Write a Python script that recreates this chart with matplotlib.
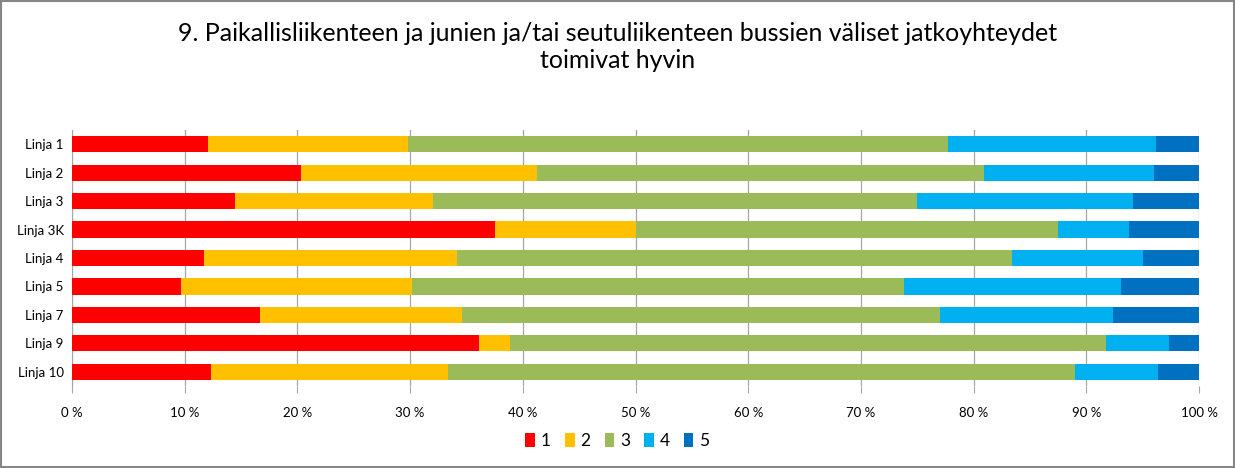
import numpy as np
import matplotlib.pyplot as plt
from matplotlib.patches import Rectangle

plt.rcParams['font.family'] = ['Lato', 'DejaVu Sans']

# Linjat ja vastausten osuudet (%)
lines = ['Linja 1', 'Linja 2', 'Linja 3', 'Linja 3K', 'Linja 4',
         'Linja 5', 'Linja 7', 'Linja 9', 'Linja 10']
answers = ['1', '2', '3', '4', '5']
ans_1 = [12.1, 20.3, 14.5, 37.5, 11.7, 9.65, 16.7, 36.1, 12.35]
ans_2 = [17.7, 21.0, 17.5, 12.5, 22.5, 20.55, 17.9, 2.8, 21.05]
ans_3 = [47.9, 39.6, 43.0, 37.5, 49.2, 43.65, 42.4, 52.8, 55.6]
ans_4 = [18.5, 15.1, 19.1, 6.25, 11.6, 19.2, 15.4, 5.6, 7.4]
ans_5 = [3.8, 4.0, 5.9, 6.25, 5.0, 6.95, 7.6, 2.7, 3.6]
colors = ['#FF0000', '#FFC000', '#9BBB59', '#00B0F0', '#0070C0']

title = ('9. Paikallisliikenteen ja junien ja/tai seutuliikenteen bussien väliset jatkoyhteydet\n'
         'toimivat hyvin')

fig = plt.figure(figsize=(12.35, 4.68), dpi=100)
ax = fig.add_axes([0.0583, 0.1752, 0.9126, 0.547])

series = [ans_1, ans_2, ans_3, ans_4, ans_5]
y = np.arange(len(lines))
left = np.zeros(len(lines))
for vals, lab, col in zip(series, answers, colors):
    vals = np.array(vals)
    ax.barh(y, vals, left=left, height=0.57, color=col, label=lab, zorder=3)
    left += vals

ax.set_ylim(len(lines) - 0.5, -0.5)
ax.set_xlim(0, 100)
ax.set_yticks(y)
ax.set_yticklabels(lines, fontsize=9.5)
ax.set_xticks(np.arange(0, 101, 10))
ax.set_xticklabels([f'{v} %' for v in range(0, 101, 10)], fontsize=9.5)
ax.grid(axis='x', color='#A6A6A6', linewidth=0.9, zorder=0)
for s in ['top', 'right', 'bottom']:
    ax.spines[s].set_visible(False)
ax.spines['left'].set_color('#A6A6A6')
ax.tick_params(axis='y', length=0, pad=6)
ax.tick_params(axis='x', length=5, color='#A6A6A6', pad=10)

fig.text(0.5, 0.899, title, fontsize=18, ha='center', va='center',
         linespacing=1.2)

fig.legend(loc='center', bbox_to_anchor=(0.5, 0.058), ncol=5, frameon=False,
           fontsize=12.5, handlelength=0.55, handleheight=0.9, handletextpad=0.35,
           columnspacing=0.8)

fig.patches.append(Rectangle((0.001, 0.002), 0.998, 0.996, transform=fig.transFigure,
                             fill=False, edgecolor='#868686', linewidth=1.5))

fig.savefig('out.png', dpi=100)
